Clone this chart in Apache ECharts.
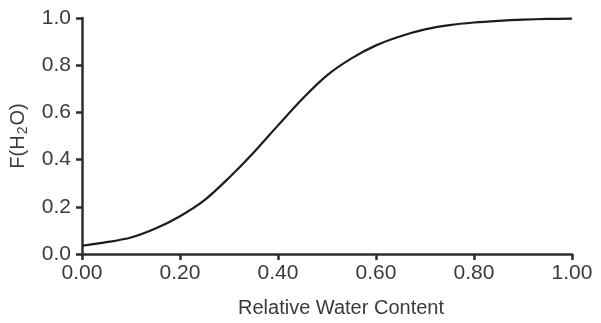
<!DOCTYPE html>
<html>
<head>
<meta charset="utf-8">
<script src="https://cdn.jsdelivr.net/npm/echarts@6/dist/echarts.min.js"></script>
<style>
  html, body { margin: 0; padding: 0; background: #fff; }
  #chart { width: 601px; height: 323px; }
</style>
</head>
<body>
<div id="chart"></div>
<script>
// Relative water content (x) and the water-stress factor F(H2O) (y)
const waterContent = [0.00, 0.05, 0.10, 0.15, 0.20, 0.25, 0.30, 0.35, 0.40, 0.45, 0.50,
                      0.55, 0.60, 0.65, 0.70, 0.75, 0.80, 0.85, 0.90, 0.95, 1.00];
const fH2O = [0.035, 0.050, 0.070, 0.108, 0.160, 0.228, 0.323, 0.429, 0.545, 0.658, 0.757,
              0.829, 0.884, 0.923, 0.952, 0.970, 0.981, 0.988, 0.993, 0.996, 0.997];
const xTicks = [0.0, 0.2, 0.4, 0.6, 0.8, 1.0];
const yTicks = [0.0, 0.2, 0.4, 0.6, 0.8, 1.0];

const textColor = '#3a3a3a';
const axisColor = '#2e2e2e';
const font = 'Liberation Sans, Arial, sans-serif';

const chart = echarts.init(document.getElementById('chart'));
chart.setOption({
  animation: false,
  backgroundColor: '#fff',
  grid: { left: 82, right: 29, top: 18, bottom: 68 },
  xAxis: {
    type: 'value',
    min: xTicks[0],
    max: xTicks[xTicks.length - 1],
    interval: xTicks[1] - xTicks[0],
    name: 'Relative Water Content',
    nameLocation: 'middle',
    nameGap: 44,
    nameTextStyle: { color: textColor, fontSize: 20, fontFamily: font, padding: [0, 0, 0, 28] },
    axisLine: { show: true, lineStyle: { color: axisColor, width: 2.5 } },
    axisTick: { show: true, length: 6, lineStyle: { color: axisColor, width: 2.5 } },
    axisLabel: {
      color: textColor, fontSize: 21, fontFamily: font, margin: 9,
      formatter: v => v.toFixed(2)
    },
    splitLine: { show: false }
  },
  yAxis: {
    type: 'value',
    min: yTicks[0],
    max: yTicks[yTicks.length - 1],
    interval: yTicks[1] - yTicks[0],
    name: '{a|F(H}{s|2}{a|O)}',
    nameLocation: 'middle',
    nameRotate: 90,
    nameGap: 52,
    nameTextStyle: {
      color: textColor, fontFamily: font,
      rich: {
        a: { fontSize: 20, color: textColor, fontFamily: font },
        s: { fontSize: 14, color: textColor, fontFamily: font, verticalAlign: 'bottom', padding: [10, 1, 0, 1] }
      }
    },
    axisLine: { show: true, lineStyle: { color: axisColor, width: 2.5 } },
    axisTick: { show: true, length: 6, lineStyle: { color: axisColor, width: 2.5 } },
    axisLabel: {
      color: textColor, fontSize: 21, fontFamily: font, margin: 11,
      formatter: v => v.toFixed(1)
    },
    splitLine: { show: false }
  },
  series: [{
    type: 'line',
    data: waterContent.map((x, i) => [x, fH2O[i]]),
    showSymbol: false,
    smooth: 0.3,
    lineStyle: { color: '#1c1c1c', width: 2.2 }
  }]
});
</script>
</body>
</html>
